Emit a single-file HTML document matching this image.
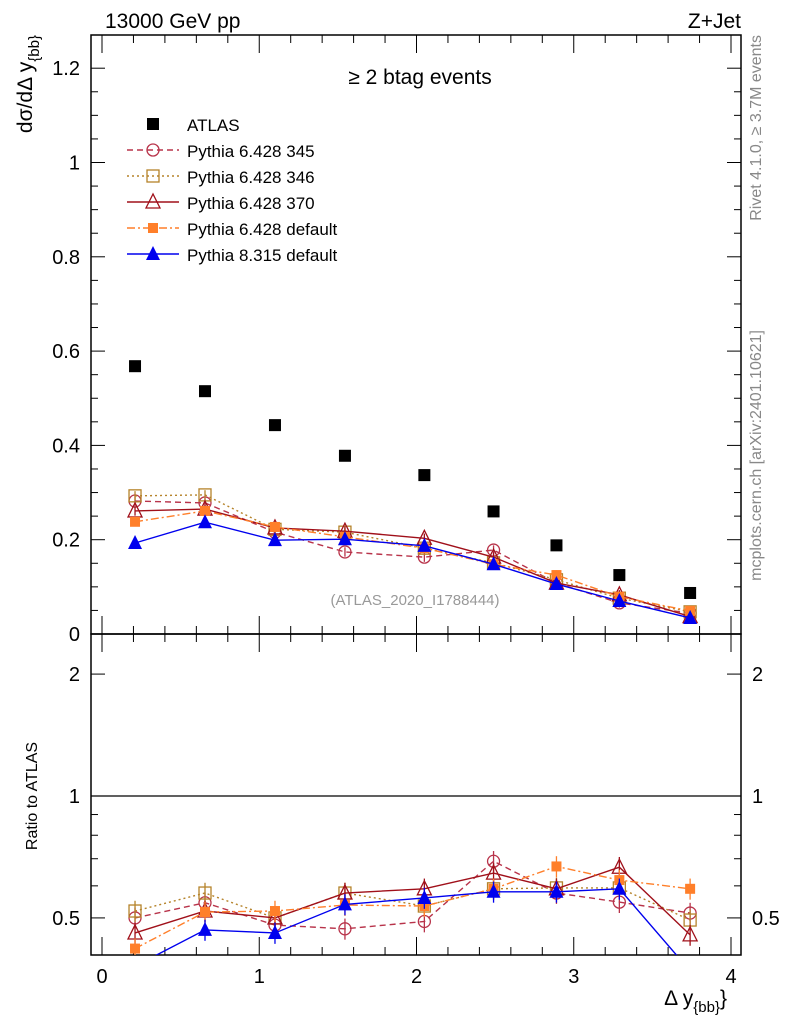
<!DOCTYPE html>
<html><head><meta charset="utf-8"><style>
body{margin:0;background:#fff;}
svg{font-family:"Liberation Sans",sans-serif;display:block;}
</style></head><body>
<svg id="chart" width="786" height="1024" xmlns="http://www.w3.org/2000/svg">
<rect width="786" height="1024" fill="#fff"/>
<g id="main"></g>
</svg>
<script>
const xs=[0.21,0.655,1.10,1.545,2.05,2.49,2.89,3.29,3.74];
const atlas=[0.568,0.515,0.443,0.378,0.337,0.260,0.188,0.125,0.087];
const p345=[0.282,0.278,0.216,0.174,0.163,0.178,0.108,0.066,0.044];
const p346=[0.293,0.295,0.222,0.216,0.182,0.151,0.115,0.076,0.047];
const p370=[0.261,0.265,0.225,0.218,0.203,0.163,0.108,0.083,0.037];
const p6def=[0.238,0.261,0.227,0.206,0.182,0.148,0.125,0.079,0.049];
const p8def=[0.193,0.237,0.199,0.201,0.187,0.148,0.106,0.070,0.034];
const r345=[0.50,0.545,0.48,0.47,0.49,0.69,0.576,0.547,0.514];
const r346=[0.52,0.576,0.50,0.576,0.535,0.59,0.593,0.593,0.494];
const r370=[0.459,0.52,0.50,0.576,0.59,0.645,0.59,0.667,0.454];
const r6def=[0.42,0.517,0.52,0.538,0.535,0.59,0.67,0.62,0.59];
const r8def=[0.38,0.467,0.459,0.54,0.56,0.58,0.58,0.59,0.37];
const yTicksMain=[0,0.2,0.4,0.6,0.8,1,1.2];
const yTickLabelsMain=["0","0.2","0.4","0.6","0.8","1","1.2"];
const xTicks=[0,1,2,3,4];
const rTicks=[0.5,1,2];

const NS="http://www.w3.org/2000/svg";
const g=document.getElementById('main');
const L=91,R=741,T=35,MB=634,RB=955;
const X=v=>102+v*157.25;
const Y=v=>634-v*471.5;
const YR=v=>796-Math.log10(v)*405;
function el(t,a,p){const e=document.createElementNS(NS,t);for(const k in a)e.setAttribute(k,a[k]);(p||g).appendChild(e);return e;}
function txt(s,x,y,a,p){const e=el('text',Object.assign({x:x,y:y},a),p);e.textContent=s;return e;}

const defs=el('defs',{});
const cp=el('clipPath',{id:'rc'},defs);el('rect',{x:L,y:MB,width:R-L,height:RB-MB},cp);
const cp2=el('clipPath',{id:'mc'},defs);el('rect',{x:L,y:T,width:R-L,height:MB-T},cp2);

let f=el('rect',{x:L,y:T,width:R-L,height:MB-T,fill:'none',stroke:'#000','stroke-width':1.5});

f=el('rect',{x:L,y:MB,width:R-L,height:RB-MB,fill:'none',stroke:'#000','stroke-width':1.5});


for(let v=0;v<=1.25;v+=0.05){const y=Y(v);if(y<T)continue;const maj=Math.abs(v/0.2-Math.round(v/0.2))<1e-6;const l=maj?14:7;
el('line',{x1:L,y1:y,x2:L+l,y2:y,stroke:'#000'});el('line',{x1:R,y1:y,x2:R-l,y2:y,stroke:'#000'});}
yTicksMain.forEach((v,i)=>{const t=txt(yTickLabelsMain[i],80,Y(v)+7,{'text-anchor':'end','font-size':20});
});
for(let v=0;v<=4.01;v+=0.2){const x=X(v);if(x>R)continue;const maj=Math.abs(v-Math.round(v))<1e-6;const l=maj?18:8;
[MB,RB].forEach(b=>el('line',{x1:x,y1:b,x2:x,y2:b-l,stroke:'#000'}));
el('line',{x1:x,y1:MB,x2:x,y2:MB+l,stroke:'#000'});el('line',{x1:x,y1:T,x2:x,y2:T+l,stroke:'#000'});}
xTicks.forEach(v=>{const t=txt(String(v),X(v),983,{'text-anchor':'middle','font-size':20});
});
[0.5,0.6,0.7,0.8,0.9,1,2].forEach(v=>{const y=YR(v);const maj=rTicks.includes(v);const l=maj?14:7;
el('line',{x1:L,y1:y,x2:L+l,y2:y,stroke:'#000'});el('line',{x1:R,y1:y,x2:R-l,y2:y,stroke:'#000'});});
rTicks.forEach(v=>{let t=txt(String(v),80,YR(v)+7,{'text-anchor':'end','font-size':20});

t=txt(String(v),752,YR(v)+7,{'font-size':20});
});
let ln=el('line',{x1:L,y1:YR(1),x2:R,y2:YR(1),stroke:'#000','stroke-width':1.2});


function marker(type,x,y,c,p){
 const s=6;
 if(type==='fsq')return el('rect',{x:x-s,y:y-s,width:2*s,height:2*s,fill:c},p);
 if(type==='osq')return el('rect',{x:x-s,y:y-s,width:2*s,height:2*s,fill:'none',stroke:c,'stroke-width':1.3},p);
 if(type==='oc')return el('circle',{cx:x,cy:y,r:6,fill:'none',stroke:c,'stroke-width':1.3},p);
 if(type==='ot')return el('polygon',{points:`${x},${y-8} ${x-7},${y+6} ${x+7},${y+6}`,fill:'none',stroke:c,'stroke-width':1.3},p);
 if(type==='fsm')return el('rect',{x:x-5,y:y-5,width:10,height:10,fill:c},p);
 if(type==='ft')return el('polygon',{points:`${x},${y-8} ${x-7},${y+6} ${x+7},${y+6}`,fill:c},p);
}
const series=[
 {n:'pythia-6-345',vals:p345,r:r345,c:'#b8334a',d:'6,4',m:'oc',lab:'Pythia 6.428 345'},
 {n:'pythia-6-346',vals:p346,r:r346,c:'#b5832a',d:'2,3',m:'osq',lab:'Pythia 6.428 346'},
 {n:'pythia-6-370',vals:p370,r:r370,c:'#a0101a',d:'',m:'ot',lab:'Pythia 6.428 370'},
 {n:'pythia-6-default',vals:p6def,r:r6def,c:'#ff7f2a',d:'8,3,2,3',m:'fsm',lab:'Pythia 6.428 default'},
 {n:'pythia-8-default',vals:p8def,r:r8def,c:'#0000ee',d:'',m:'ft',lab:'Pythia 8.315 default'}];
series.forEach(s=>{
 [['main',s.vals,Y,'mc',0.01],['ratio',s.r,YR,'rc',0.03]].forEach(([pn,arr,fy,clip,err])=>{
  const gg=el('g',{'clip-path':`url(#${clip})`});
  
  const pts=arr.map((v,i)=>X(xs[i])+','+fy(v)).join(' ');
  el('polyline',{points:pts,fill:'none',stroke:s.c,'stroke-width':1.4,'stroke-dasharray':s.d},gg);
  arr.forEach((v,i)=>{const e=pn==='main'?err:v*0.06;
   el('line',{x1:X(xs[i]),y1:fy(v+e),x2:X(xs[i]),y2:fy(Math.max(v-e,0.01)),stroke:s.c,'stroke-width':1.3},gg);
   const mk=marker(s.m,X(xs[i]),fy(v),s.c,gg);
   });
 });
});
atlas.forEach((v,i)=>{const m=marker('fsq',X(xs[i]),Y(v),'#000');
 });

const lg=el('g',{});
let ly=124;
let e=marker('fsq',153,ly,'#000',lg);
e=txt('ATLAS',187,ly+7,{'font-size':17},lg);
series.forEach((s,i)=>{const y=150+i*26;
 el('line',{x1:127,y1:y,x2:179,y2:y,stroke:s.c,'stroke-width':1.4,'stroke-dasharray':s.d},lg);
 marker(s.m,153,y,s.c,lg);
 const t=txt(s.lab,187,y+7,{'font-size':17},lg);});

let t=txt('13000 GeV pp',105,28,{'font-size':21});
t=txt('Z+Jet',741,28,{'font-size':21,'text-anchor':'end'});
t=txt('≥ 2 btag events',420,84,{'font-size':21,'text-anchor':'middle'});
t=txt('(ATLAS_2020_I1788444)',415,605,{'font-size':15,'text-anchor':'middle',fill:'#999'});
t=txt('Rivet 4.1.0, ≥ 3.7M events',0,0,{'font-size':16,fill:'#888','text-anchor':'end',transform:'translate(761,35) rotate(-90)'});
t=txt('mcplots.cern.ch [arXiv:2401.10621]',0,0,{'font-size':16,fill:'#888','text-anchor':'end',transform:'translate(761,330) rotate(-90)'});
t=el('text',{x:0,y:0,'font-size':21,'text-anchor':'end',transform:'translate(32,35) rotate(-90)'});
t.innerHTML='dσ/dΔ y<tspan dy="7" font-size="15">{bb}</tspan>';

t=txt('Ratio to ATLAS',0,0,{'font-size':16,'text-anchor':'middle',transform:'translate(37,796) rotate(-90)'});
t=el('text',{x:727,y:1005,'font-size':21,'text-anchor':'end'});
t.innerHTML='Δ y<tspan dy="7" font-size="15">{bb}</tspan><tspan dy="-7">}</tspan>';

</script>
</body></html>
